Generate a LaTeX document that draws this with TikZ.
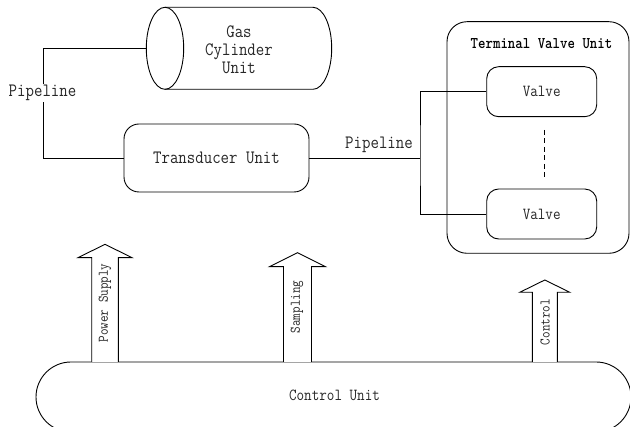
\documentclass[tikz,border=0pt]{standalone}
\usepackage{graphicx}
\usetikzlibrary{calc}
% labels are set a little taller than the plain mono face
\newcommand{\tallt}[1]{\scalebox{1}[1.15]{#1}}
\begin{document}
\begin{tikzpicture}[x=1pt, y=-1pt, line width=0.9pt,
  bigtxt/.style={font=\ttfamily\fontsize{16.4}{20}\selectfont, text=black!85},
  midtxt/.style={font=\ttfamily\fontsize{14.7}{18}\selectfont, text=black!85},
  smalltxt/.style={font=\ttfamily\fontsize{12.8}{15}\selectfont, text=black!85},
  unitbox/.style={draw, rounded corners=15pt, inner sep=0pt},
  valvebox/.style={draw, rounded corners=12pt, minimum width=110pt, minimum height=50pt, inner sep=0pt, midtxt},
  pipe/.style={draw, line width=0.9pt},
  pipelabel/.style={bigtxt, fill=white, inner sep=1.5pt},
  blockarr/.style={draw, fill=white, line width=0.9pt, line join=miter}
]
\useasboundingbox (0,0) rectangle (630,427);
\clip (0,0) rectangle (630,427);

% gas cylinder, drawn lying on its side
\draw (165,48.3) ellipse [x radius=18.7, y radius=41];
\draw (165,7.3) -- (313,7.3) arc [start angle=-90, end angle=90, x radius=18.7, y radius=41] -- (165,89.3);
\node[bigtxt, align=center] (cyl) at (239,49.3) {\tallt{Gas}\\[-2pt]\tallt{Cylinder}\\[-2pt]\tallt{Unit}};
\coordinate (cylL) at (146.3,48.3);

% transducer
\node[unitbox, bigtxt, minimum width=185pt, minimum height=68pt] (trans) at (216.5,158) {\tallt{Transducer Unit}};

% terminal valve unit
\node[draw, rounded corners=20pt, minimum width=182pt, minimum height=231.6pt, inner sep=0pt] (term) at (538,137.5) {};
\node[font=\ttfamily\bfseries\fontsize{14.2}{17}\selectfont] (termtitle) at (541.5,43.5) {\tallt{Terminal Valve Unit}};
\node[valvebox] (valveA) at (541.7,91.7) {\tallt{Valve}};
\node[valvebox] (valveB) at (541.7,214) {\tallt{Valve}};
\coordinate (dotsA) at (544.3,130);
\coordinate (dotsB) at (544.3,180);
\draw[dash pattern=on 5pt off 3.5pt, line width=0.8pt] (dotsA) -- (dotsB);

% pipelines
\coordinate (bendA) at (43.7,48.3);
\draw[pipe] (cylL) -- (bendA) |- (trans.west);
\node[pipelabel] (plA) at (42.5,93) {\tallt{Pipeline}};

\coordinate (junc) at (420,158);
\draw[pipe] (trans.east) -- (junc);
\draw[pipe] (valveA.west) -| (junc) |- (valveB.west);
\node[bigtxt] (plB) at (379,145) {\tallt{Pipeline}};

% control unit
\draw (71,362) -- (596,362) arc [start angle=-90, end angle=90, radius=35]
      -- (71,432) arc [start angle=90, end angle=270, radius=35] -- cycle;
\node[midtxt] (ctrl) at (334.5,395.7) {\tallt{Control Unit}};

% block arrows leaving the control unit
\newcommand{\upblock}[6]{%
  % #1 centre x, #2 shaft half width, #3 head half width, #4 head base y, #5 tip y, #6 bottom y
  \draw[blockarr] (#1-#2,#6) -- (#1-#2,#4) -- (#1-#3,#4) -- (#1,#5)
        -- (#1+#3,#4) -- (#1+#2,#4) -- (#1+#2,#6);
}
\upblock{105}{13.3}{27}{257.7}{244.3}{362}
\upblock{297.5}{14}{28}{266.7}{252.7}{362}
\upblock{544.8}{12.5}{25}{292.3}{280}{362}
\node[smalltxt, rotate=90] (psup) at (105,303) {\tallt{Power Supply}};
\node[smalltxt, rotate=90] (samp) at (297,307) {\tallt{Sampling}};
\node[smalltxt, rotate=90] (ctl) at (545,322) {\tallt{Control}};
\end{tikzpicture}
\end{document}
